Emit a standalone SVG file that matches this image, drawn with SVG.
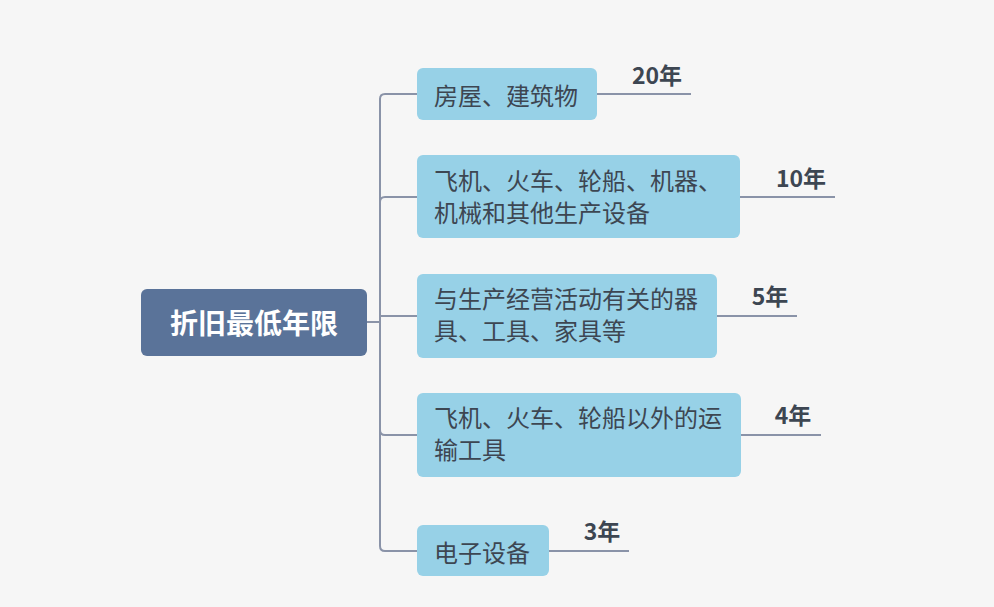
<svg xmlns="http://www.w3.org/2000/svg" width="994" height="607" viewBox="0 0 994 607">
<style>
.bg{fill:#f6f6f6}
.root{fill:#5a7399}
.rt{fill:#ffffff;font-family:"Noto Sans CJK SC","Noto Sans",sans-serif;font-weight:bold;font-size:28px}
.node{fill:#97d1e7}
.nt{fill:#3d4652;font-family:"Noto Sans CJK SC","Noto Sans",sans-serif;font-size:24px}
.yt{fill:#3d4652;font-family:"Noto Sans CJK SC","Noto Sans",sans-serif;font-weight:bold;font-size:23px}
.ln{fill:none;stroke:#8a93a8;stroke-width:2}
</style>
<rect class="bg" x="0" y="0" width="994" height="607"/>
<g id="connectors">
<path class="ln" d="M367,322 H380"/>
<path class="ln" d="M380,322 V99 Q380,94 385,94 H417"/>
<path class="ln" d="M380,322 V202 Q380,197 385,197 H417"/>
<path class="ln" d="M380,316 H417"/>
<path class="ln" d="M380,322 V430 Q380,435 385,435 H417"/>
<path class="ln" d="M380,322 V546 Q380,551 385,551 H417"/>
<path class="ln" d="M597,94 H691"/>
<path class="ln" d="M740,197 H835"/>
<path class="ln" d="M717,316 H797"/>
<path class="ln" d="M741,435 H821"/>
<path class="ln" d="M549,551 H629"/>
</g>
<g id="root">
<rect class="root" x="141" y="289" width="226" height="67" rx="6"/>
<text class="rt" x="254" y="322" text-anchor="middle" dominant-baseline="central">折旧最低年限</text>
</g>
<g id="n1">
<rect class="node" x="417" y="68" width="180" height="52" rx="6"/>
<text class="nt" x="434" y="94" dominant-baseline="central">房屋、建筑物</text>
</g>
<g id="n2">
<rect class="node" x="417" y="155" width="323" height="83" rx="6"/>
<text class="nt" x="434" y="190"><tspan x="434" y="190">飞机、火车、轮船、机器、</tspan><tspan x="434" y="222">机械和其他生产设备</tspan></text>
</g>
<g id="n3">
<rect class="node" x="417" y="274" width="300" height="84" rx="6"/>
<text class="nt" x="434" y="308"><tspan x="434" y="308">与生产经营活动有关的器</tspan><tspan x="434" y="340">具、工具、家具等</tspan></text>
</g>
<g id="n4">
<rect class="node" x="417" y="393" width="324" height="84" rx="6"/>
<text class="nt" x="434" y="427"><tspan x="434" y="427">飞机、火车、轮船以外的运</tspan><tspan x="434" y="459">输工具</tspan></text>
</g>
<g id="n5">
<rect class="node" x="417" y="525" width="132" height="51" rx="6"/>
<text class="nt" x="434" y="551" dominant-baseline="central">电子设备</text>
</g>
<g id="y1"><text class="yt" x="657" y="74" text-anchor="middle" dominant-baseline="central">20年</text></g>
<g id="y2"><text class="yt" x="801" y="177" text-anchor="middle" dominant-baseline="central">10年</text></g>
<g id="y3"><text class="yt" x="770" y="295" text-anchor="middle" dominant-baseline="central">5年</text></g>
<g id="y4"><text class="yt" x="793" y="414" text-anchor="middle" dominant-baseline="central">4年</text></g>
<g id="y5"><text class="yt" x="602" y="530" text-anchor="middle" dominant-baseline="central">3年</text></g>
</svg>
